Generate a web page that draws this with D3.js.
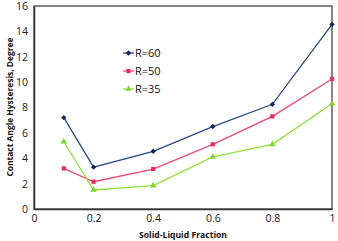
<!DOCTYPE html>
<html>
<head>
<meta charset="utf-8">
<script src="https://cdn.jsdelivr.net/npm/d3@7"></script>
<style>
  body { margin: 0; background: #fff; }
  svg { display: block; font-family: "Open Sans", "Liberation Sans", sans-serif; }
</style>
</head>
<body>
<svg width="338" height="241"></svg>
<script>
// data
let fractions = [0.1, 0.2, 0.4, 0.6, 0.8, 1];
let r60 = [7.2, 3.3, 4.55, 6.5, 8.25, 14.55];
let r50 = [3.2, 2.15, 3.15, 5.1, 7.3, 10.25];
let r35 = [5.3, 1.5, 1.85, 4.1, 5.1, 8.3];
let seriesNames = ["R=60", "R=50", "R=35"];
let xTicks = [0, 0.2, 0.4, 0.6, 0.8, 1];
let yTicks = [0, 2, 4, 6, 8, 10, 12, 14, 16];

let width = 338;
let height = 241;
let padLeft = 34, padRight = 332, padTop = 6, padBottom = 209;

let svg = d3.select("svg");

let xScale = d3.scaleLinear().domain([0, 1]).range([padLeft, padRight]);
let yScale = d3.scaleLinear().domain([0, 16]).range([padBottom, padTop]);

let series = [
  { name: seriesNames[0], values: r60, line: "#2b4a8c", mark: "#14245e", symbol: d3.symbolDiamond2 },
  { name: seriesNames[1], values: r50, line: "#f2486e", mark: "#ea2d5c", symbol: d3.symbolSquare },
  { name: seriesNames[2], values: r35, line: "#8fe23a", mark: "#7cd72a", symbol: d3.symbolTriangle }
];

// plot frame
svg.append("rect")
  .attr("x", padLeft).attr("y", padTop)
  .attr("width", padRight - padLeft).attr("height", padBottom - padTop)
  .attr("fill", "none").attr("stroke", "#444").attr("stroke-width", 1.3);

// axes (no visible tick marks, just labels)
let xAxis = d3.axisBottom(xScale).tickValues(xTicks).tickSize(0).tickPadding(6).tickFormat(d3.format("~g"));
let gx = svg.append("g").attr("transform", "translate(0," + padBottom + ")").call(xAxis);
let yAxis = d3.axisLeft(yScale).tickValues(yTicks).tickSize(0).tickPadding(6);
let gy = svg.append("g").attr("transform", "translate(" + padLeft + ",0)").call(yAxis);

[gx, gy].forEach((g) => {
  g.select(".domain").attr("stroke", "#333").attr("stroke-width", 1.5);
  g.selectAll(".tick text").attr("fill", "#222").style("font-size", "10.5px")
    .style("font-family", "'Open Sans', sans-serif");
});

// lines and markers
let line = d3.line()
  .x((d, i) => xScale(fractions[i]))
  .y((d) => yScale(d));

series.forEach((s) => {
  svg.append("path")
    .datum(s.values)
    .attr("d", line)
    .attr("fill", "none")
    .attr("stroke", s.line)
    .attr("stroke-width", 1.3);

  svg.selectAll(null)
    .data(s.values)
    .enter()
    .append("path")
    .attr("d", d3.symbol().type(s.symbol).size(18))
    .attr("transform", (d, i) => "translate(" + xScale(fractions[i]) + "," + yScale(d) + ")")
    .attr("fill", s.mark);
});

// legend
let legend = svg.append("g").attr("transform", "translate(123,53)");
series.forEach((s, i) => {
  let row = legend.append("g").attr("transform", "translate(0," + i * 18 + ")");
  row.append("line").attr("x1", 0).attr("x2", 11).attr("stroke", s.line).attr("stroke-width", 1.3);
  row.append("path")
    .attr("d", d3.symbol().type(s.symbol).size(18))
    .attr("transform", "translate(5.5,0)")
    .attr("fill", s.mark);
  row.append("text")
    .attr("x", 12).attr("y", 4)
    .style("font-size", "11px")
    .attr("fill", "#111")
    .text(s.name);
});

// axis titles (squeezed to the narrow width of the original font)
svg.append("text")
  .attr("x", 183).attr("y", 238)
  .attr("text-anchor", "middle")
  .attr("textLength", 88).attr("lengthAdjust", "spacingAndGlyphs")
  .style("font-size", "9.5px").style("font-weight", "bold")
  .attr("fill", "#111")
  .text("Solid-Liquid Fraction");

svg.append("text")
  .attr("transform", "translate(13,107) rotate(-90)")
  .attr("text-anchor", "middle")
  .attr("textLength", 139).attr("lengthAdjust", "spacingAndGlyphs")
  .style("font-size", "9.5px").style("font-weight", "bold")
  .attr("fill", "#111")
  .text("Contact Angle Hysteresis, Degree");
</script>
</body>
</html>
